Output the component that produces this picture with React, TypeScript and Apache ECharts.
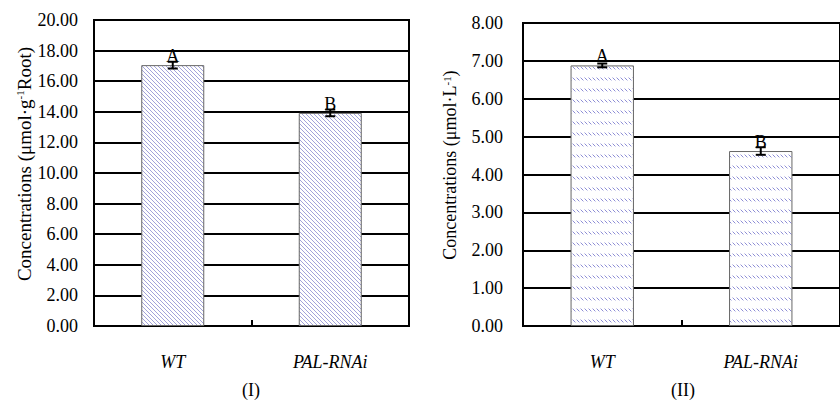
import React, { useEffect, useRef } from "react";
import * as echarts from "echarts";

const categories = ["WT", "PAL-RNAi"];
const rootValues = [17.05, 13.93];
const rootErrors = [0.22, 0.22];
const rootLetters = ["A", "B"];
const fluidValues = [6.88, 4.62];
const fluidErrors = [0.05, 0.1];
const fluidLetters = ["A", "B"];
const panelTitles = ["(I)", "(II)"];

const FONT = "Liberation Serif, Times New Roman, serif";

function makeStripe(): HTMLCanvasElement {
  const c = document.createElement("canvas");
  c.width = 4;
  c.height = 4;
  const ctx = c.getContext("2d")!;
  ctx.fillStyle = "#ffffff";
  ctx.fillRect(0, 0, 4, 4);
  ctx.strokeStyle = "#8c8cd0";
  ctx.lineWidth = 0.8;
  ctx.beginPath();
  ctx.moveTo(-1, -1);
  ctx.lineTo(5, 5);
  ctx.moveTo(-1, 3);
  ctx.lineTo(1, 5);
  ctx.moveTo(3, -1);
  ctx.lineTo(5, 1);
  ctx.stroke();
  return c;
}

function makeDash(): HTMLCanvasElement {
  const c = document.createElement("canvas");
  c.width = 4;
  c.height = 11;
  const ctx = c.getContext("2d")!;
  ctx.fillStyle = "#ffffff";
  ctx.fillRect(0, 0, 4, 11);
  ctx.strokeStyle = "#8080d0";
  ctx.lineWidth = 0.9;
  ctx.beginPath();
  ctx.moveTo(0.6, 0.6);
  ctx.lineTo(3.4, 3.4);
  ctx.stroke();
  return c;
}

function errorSeries(xi: number, values: number[], errors: number[]) {
  return {
    type: "custom",
    xAxisIndex: xi,
    yAxisIndex: xi,
    z: 3,
    silent: true,
    data: values.map((v, i) => [i, v, errors[i]]),
    renderItem: (params: any, api: any) => {
      const i = api.value(0);
      const v = api.value(1);
      const e = api.value(2);
      const top = api.coord([i, v + e]);
      const bot = api.coord([i, v - e]);
      const hw = 5;
      const style = { stroke: "#000", lineWidth: 2 };
      return {
        type: "group",
        children: [
          { type: "line", shape: { x1: top[0], y1: top[1], x2: bot[0], y2: bot[1] }, style },
          { type: "line", shape: { x1: top[0] - hw, y1: top[1], x2: top[0] + hw, y2: top[1] }, style },
          { type: "line", shape: { x1: bot[0] - hw, y1: bot[1], x2: bot[0] + hw, y2: bot[1] }, style },
        ],
      };
    },
  };
}

export default function App() {
  const ref = useRef<HTMLDivElement>(null);
  useEffect(() => {
    if (!ref.current) return;
    const chart = echarts.init(ref.current, undefined, { renderer: "svg" });
    const stripe = makeStripe();
    const dash = makeDash();

    const xAxisBase = (gi: number) => ({
      type: "category",
      gridIndex: gi,
      data: categories,
      boundaryGap: true,
      axisLine: { show: true, lineStyle: { color: "#000", width: 2 } },
      axisTick: { show: true, inside: true, length: 6, lineStyle: { color: "#000", width: 2 } },
      axisLabel: { color: "#000", fontFamily: FONT, fontSize: 18, fontStyle: "italic", margin: 27 },
      splitLine: { show: false },
    });
    const yAxisBase = (gi: number, max: number, interval: number, margin: number) => ({
      type: "value",
      gridIndex: gi,
      min: 0,
      max,
      interval,
      axisLine: { show: true, lineStyle: { color: "#000", width: 2 } },
      axisTick: { show: false },
      axisLabel: {
        color: "#000",
        fontFamily: FONT,
        fontSize: 18,
        margin,
        formatter: (v: number) => v.toFixed(2),
      },
      splitLine: { show: true, lineStyle: { color: "#000", width: 2 } },
    });

    const labelCfg = (letters: string[]) => ({
      show: true,
      position: "top",
      distance: 0,
      color: "#000",
      fontFamily: FONT,
      fontSize: 18,
      formatter: (p: any) => letters[p.dataIndex],
    });

    chart.setOption({
      animation: false,
      backgroundColor: "#fff",
      textStyle: { fontFamily: FONT },
      grid: [
        { left: 94, top: 20, width: 315, height: 306, show: true, borderColor: "#000", borderWidth: 2, backgroundColor: "transparent" },
        { left: 523, top: 23, width: 321, height: 303, show: true, borderColor: "#000", borderWidth: 2, backgroundColor: "transparent" },
      ],
      xAxis: [xAxisBase(0), xAxisBase(1)],
      yAxis: [yAxisBase(0, 20, 2, 16), yAxisBase(1, 8, 1, 20)],
      series: [
        {
          type: "bar",
          xAxisIndex: 0,
          yAxisIndex: 0,
          data: rootValues,
          barWidth: "40%",
          itemStyle: { color: { image: stripe, repeat: "repeat" } as any, borderColor: "#666", borderWidth: 1 },
          label: labelCfg(rootLetters),
        },
        errorSeries(0, rootValues, rootErrors),
        {
          type: "bar",
          xAxisIndex: 1,
          yAxisIndex: 1,
          data: fluidValues,
          barWidth: "40%",
          itemStyle: { color: { image: dash, repeat: "repeat" } as any, borderColor: "#666", borderWidth: 1 },
          label: labelCfg(fluidLetters),
        },
        errorSeries(1, fluidValues, fluidErrors),
      ],
      graphic: [
        {
          type: "text",
          x: 24,
          y: 164,
          rotation: Math.PI / 2,
          style: {
            text: "{a|Concentrations (μmol·g}{s|-1}{a|Root)}",
            rich: {
              a: { fontFamily: FONT, fontSize: 19, fill: "#000" },
              s: { fontFamily: FONT, fontSize: 11, fill: "#000", verticalAlign: "top" },
            },
            align: "center",
            verticalAlign: "middle",
            fill: "#000",
          },
        },
        {
          type: "text",
          x: 450,
          y: 165,
          rotation: Math.PI / 2,
          style: {
            text: "{a|Concentrations (μmol·L}{s|-1}{a|)}",
            rich: {
              a: { fontFamily: FONT, fontSize: 18, fill: "#000" },
              s: { fontFamily: FONT, fontSize: 11, fill: "#000", verticalAlign: "top" },
            },
            align: "center",
            verticalAlign: "middle",
            fill: "#000",
          },
        },
        {
          type: "text",
          x: 251,
          y: 390,
          style: { text: panelTitles[0], fontFamily: FONT, fontSize: 18, fill: "#000", align: "center", verticalAlign: "middle" },
        },
        {
          type: "text",
          x: 683,
          y: 390,
          style: { text: panelTitles[1], fontFamily: FONT, fontSize: 18, fill: "#000", align: "center", verticalAlign: "middle" },
        },
      ],
    });
    return () => chart.dispose();
  }, []);
  return (
    <div
      ref={ref}
      style={{ position: "fixed", left: 0, top: 0, width: 840, height: 400, background: "#fff" }}
    />
  );
}
